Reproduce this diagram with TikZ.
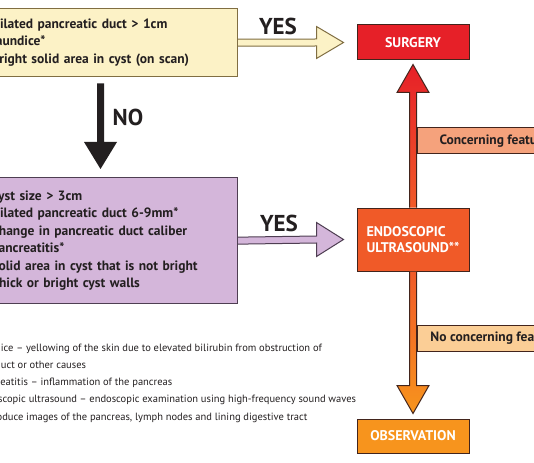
\documentclass[tikz,border=0pt]{standalone}
\usepackage{fontspec}
\setmainfont{PT Sans}
\usepackage{tikz}
\usetikzlibrary{calc}
\usetikzlibrary{arrows.meta,backgrounds,shapes}
\usetikzlibrary{positioning}
\usepackage{xcolor}
\definecolor{yfill}{RGB}{252,242,198}
\definecolor{yline}{RGB}{128,110,66}
\definecolor{pfill}{RGB}{212,182,218}
\definecolor{pline}{RGB}{78,62,82}
\definecolor{surg}{RGB}{230,32,40}
\definecolor{eusc}{RGB}{240,90,40}
\definecolor{obsc}{RGB}{247,148,29}
\definecolor{cfill}{RGB}{245,162,124}
\definecolor{nfill}{RGB}{251,206,150}
\definecolor{dline}{RGB}{66,36,28}
\definecolor{txt}{RGB}{35,31,32}
\newcommand{\bfs}{\bfseries\fontsize{13.5}{17.5}\selectfont}

\begin{document}
\begin{tikzpicture}[x=1pt,y=-1pt,
    critbox/.style={line width=1.3pt, anchor=north east, align=left,
      text width=236pt, inner xsep=10pt, text=txt, font=\bfs},
    outbox/.style={draw=dline, line width=1pt, minimum width=112pt,
      text=white, font=\bfseries\fontsize{14}{16}\selectfont},
    tagbox/.style={draw=dline, line width=1pt, anchor=west, minimum height=26pt,
      minimum width=160pt, inner xsep=7pt, text=txt, font=\bfseries\fontsize{13.5}{16}\selectfont},
    lbl/.style={text=txt, font=\bfseries\fontsize{23}{23}\selectfont},
    shaft/.style={draw=dline, line width=1pt, line join=miter}]
  \useasboundingbox (0,0) rectangle (534,462);

  \node[critbox, draw=yline, fill=yfill, minimum height=68pt] (crit1) at (238,8)
    {Dilated pancreatic duct > 1cm\\Jaundice*\\Bright solid area in cyst (on scan)};
  \node[critbox, draw=pline, fill=pfill, minimum height=126pt] (crit2) at (238,177)
    {Cyst size > 3cm\\Dilated pancreatic duct 6-9mm*\\Change in pancreatic duct caliber\\
     Pancreatitis*\\Solid area in cyst that is not bright\\Thick or bright cyst walls};

  \node[outbox, fill=surg, minimum height=35pt] (surgery) at (413,42.5) {SURGERY};
  \node[outbox, fill=eusc, minimum height=63pt, align=left] (eus) at (413,239.5)
    {ENDOSCOPIC\\ULTRASOUND**};
  \node[outbox, fill=obsc, minimum height=34pt] (obs) at (413,436) {OBSERVATION};

  % YES arrows
  \draw[shaft, draw=yline, fill=yfill] ($(crit1.east)+(0,-3.5)$) -- ($(surgery.west)+(-40,-3.5)$)
    -- ($(surgery.west)+(-40,-16)$) -- ($(surgery.west)+(-13,0)$) -- ($(surgery.west)+(-40,16)$)
    -- ($(surgery.west)+(-40,3.5)$) -- ($(crit1.east)+(0,3.5)$);
  \draw[shaft, draw=pline, fill=pfill] ($(crit2.east)+(0,-3.5)$) -- ($(eus.west)+(-40,-3.5)$)
    -- ($(eus.west)+(-40,-17)$) -- ($(eus.west)+(-13,0)$) -- ($(eus.west)+(-40,17)$)
    -- ($(eus.west)+(-40,3.5)$) -- ($(crit2.east)+(0,3.5)$);
  \node[lbl] (yes1) at (278,26.5) {YES};
  \node[lbl] (yes2) at (279,223) {YES};

  % NO arrow
  \coordinate (notop) at ($(crit1.south east)+(-137.5,6)$);
  \coordinate (notip) at ($(crit2.north east)+(-137.5,-8)$);
  \fill[txt] ($(notop)+(-3.5,0)$) -- ($(notip)+(-3.5,-27)$) -- ($(notip)+(-16.5,-27)$)
    -- (notip) -- ($(notip)+(16.5,-27)$) -- ($(notip)+(3.5,-27)$) -- ($(notop)+(3.5,0)$) -- cycle;
  \node[lbl] (no) at (128,117) {NO};

  % EUS to outcomes
  \draw[shaft, top color=surg, bottom color=eusc] ($(eus.north)+(-3.5,0)$) -- ($(surgery.south)+(-3.5,32)$)
    -- ($(surgery.south)+(-16,32)$) -- ($(surgery.south)+(0,4)$) -- ($(surgery.south)+(16,32)$)
    -- ($(surgery.south)+(3.5,32)$) -- ($(eus.north)+(3.5,0)$);
  \draw[shaft, top color=eusc, bottom color=obsc] ($(eus.south)+(-3.5,0)$) -- ($(obs.north)+(-3.5,-33)$)
    -- ($(obs.north)+(-16,-33)$) -- ($(obs.north)+(0,-5)$) -- ($(obs.north)+(16,-33)$)
    -- ($(obs.north)+(3.5,-33)$) -- ($(eus.south)+(3.5,0)$);
  \node[tagbox, fill=cfill] (conc) at (416.5,141) {Concerning features};
  \node[tagbox, fill=nfill] (noconc) at (416.5,338.5) {No concerning features};

  \node[anchor=west, align=left, text=txt, font=\fontsize{10.5}{17.3}\selectfont] (notes) at (-28,383)
    {Jaundice -- yellowing of the skin due to elevated bilirubin from obstruction of\\
     bile duct or other causes\\
     Pancreatitis -- inflammation of the pancreas\\
     Endoscopic ultrasound -- endoscopic examination using high-frequency sound waves\\
     to produce images of the pancreas, lymph nodes and lining digestive tract};
\end{tikzpicture}
\end{document}
